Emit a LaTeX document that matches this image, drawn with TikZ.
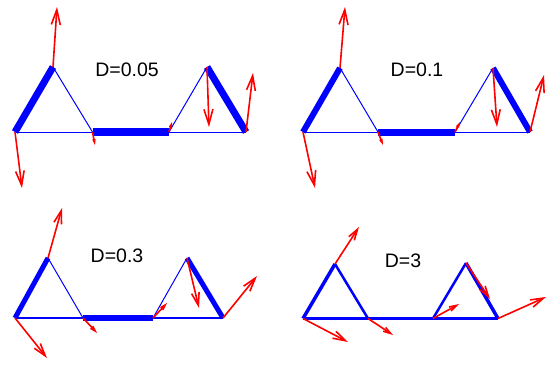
\documentclass[tikz,border=0pt]{standalone}
\usepackage{fontspec}
\setmainfont{Liberation Sans}
\usetikzlibrary{arrows.meta}

\begin{document}
\begin{tikzpicture}[x=1pt, y=-1pt]
    \tikzset{
        bond/.style={draw=blue, line width=#1},
        vec/.style={draw=red, line width=1.6pt,
                    -{Straight Barb[length=15pt, width=9pt, scale=#1]}},
        dtext/.style={font=\fontsize{19.5}{20}\selectfont}
    }
    \useasboundingbox (0,0) rectangle (551,367);

    % D=0.05
    \coordinate (a1) at (15,132);
    \coordinate (b1) at (53,67);
    \coordinate (c1) at (92.5,132);
    \coordinate (d1) at (169,132);
    \coordinate (e1) at (207,67);
    \coordinate (f1) at (246,132);
    \coordinate (ta1) at (22,188);
    \coordinate (tb1) at (57,7);
    \coordinate (tc1) at (95,145);
    \coordinate (td1) at (172,122);
    \coordinate (te1) at (209,127);
    \coordinate (tf1) at (253,73);
    \draw[bond=7pt] (a1) -- (b1);
    \draw[bond=1pt] (b1) -- (c1);
    \draw[bond=1pt] (a1) -- (c1);
    \draw[bond=8pt] (c1) -- (d1);
    \draw[bond=1pt] (d1) -- (e1);
    \draw[bond=7pt] (e1) -- (f1);
    \draw[bond=1pt] (d1) -- (f1);
    \draw[vec=0.96] (a1) -- (ta1);
    \draw[vec=1] (b1) -- (tb1);
    \draw[vec=0.21] (c1) -- (tc1);
    \draw[vec=0.19] (d1) -- (td1);
    \draw[vec=1] (e1) -- (te1);
    \draw[vec=0.98] (f1) -- (tf1);
    \node[dtext] (lab1) at (127,70) {D=0.05};

    % D=0.1
    \coordinate (a2) at (303,132);
    \coordinate (b2) at (340,68);
    \coordinate (c2) at (378,132);
    \coordinate (d2) at (455,132);
    \coordinate (e2) at (493,68);
    \coordinate (f2) at (530,132);
    \coordinate (ta2) at (315,188);
    \coordinate (tb2) at (345,7);
    \coordinate (tc2) at (383,145);
    \coordinate (td2) at (460,122);
    \coordinate (te2) at (497,127);
    \coordinate (tf2) at (544,75);
    \draw[bond=6pt] (a2) -- (b2);
    \draw[bond=1pt] (b2) -- (c2);
    \draw[bond=1pt] (a2) -- (c2);
    \draw[bond=7pt] (c2) -- (d2);
    \draw[bond=1pt] (d2) -- (e2);
    \draw[bond=6pt] (e2) -- (f2);
    \draw[bond=1pt] (d2) -- (f2);
    \draw[vec=0.99] (a2) -- (ta2);
    \draw[vec=1] (b2) -- (tb2);
    \draw[vec=0.22] (c2) -- (tc2);
    \draw[vec=0.2] (d2) -- (td2);
    \draw[vec=0.98] (e2) -- (te2);
    \draw[vec=0.98] (f2) -- (tf2);
    \node[dtext] (lab2) at (417,70) {D=0.1};

    % D=0.3
    \coordinate (a3) at (15,318);
    \coordinate (b3) at (48,258);
    \coordinate (c3) at (83,318);
    \coordinate (d3) at (153,318);
    \coordinate (e3) at (187,258);
    \coordinate (f3) at (223,318);
    \coordinate (ta3) at (47,358);
    \coordinate (tb3) at (62,208);
    \coordinate (tc3) at (97,333);
    \coordinate (td3) at (167,303);
    \coordinate (te3) at (199,308);
    \coordinate (tf3) at (257,276);
    \draw[bond=5pt] (a3) -- (b3);
    \draw[bond=1pt] (b3) -- (c3);
    \draw[bond=1.3pt] (a3) -- (c3);
    \draw[bond=6pt] (c3) -- (d3);
    \draw[bond=1pt] (d3) -- (e3);
    \draw[bond=5pt] (e3) -- (f3);
    \draw[bond=1.3pt] (d3) -- (f3);
    \draw[vec=0.85] (a3) -- (ta3);
    \draw[vec=0.87] (b3) -- (tb3);
    \draw[vec=0.34] (c3) -- (tc3);
    \draw[vec=0.34] (d3) -- (td3);
    \draw[vec=0.86] (e3) -- (te3);
    \draw[vec=0.9] (f3) -- (tf3);
    \node[dtext] (lab3) at (117,256) {D=0.3};

    % D=3
    \coordinate (a4) at (303,318.5);
    \coordinate (b4) at (335,264);
    \coordinate (c4) at (368,318.5);
    \coordinate (d4) at (433,318.5);
    \coordinate (e4) at (466,263);
    \coordinate (f4) at (498,318.5);
    \coordinate (ta4) at (348,342);
    \coordinate (tb4) at (359,227);
    \coordinate (tc4) at (393,335);
    \coordinate (td4) at (459,304);
    \coordinate (te4) at (490,299);
    \coordinate (tf4) at (546,297);
    \draw[bond=3.5pt] (a4) -- (b4);
    \draw[bond=2.5pt] (b4) -- (c4);
    \draw[bond=2.5pt] (a4) -- (c4);
    \draw[bond=2.5pt] (c4) -- (d4);
    \draw[bond=2.5pt] (d4) -- (e4);
    \draw[bond=3.5pt] (e4) -- (f4);
    \draw[bond=2.5pt] (d4) -- (f4);
    \draw[vec=0.85] (a4) -- (ta4);
    \draw[vec=0.73] (b4) -- (tb4);
    \draw[vec=0.5] (c4) -- (tc4);
    \draw[vec=0.5] (d4) -- (td4);
    \draw[vec=0.72] (e4) -- (te4);
    \draw[vec=0.87] (f4) -- (tf4);
    \node[dtext] (lab4) at (403,261) {D=3};
\end{tikzpicture}
\end{document}
